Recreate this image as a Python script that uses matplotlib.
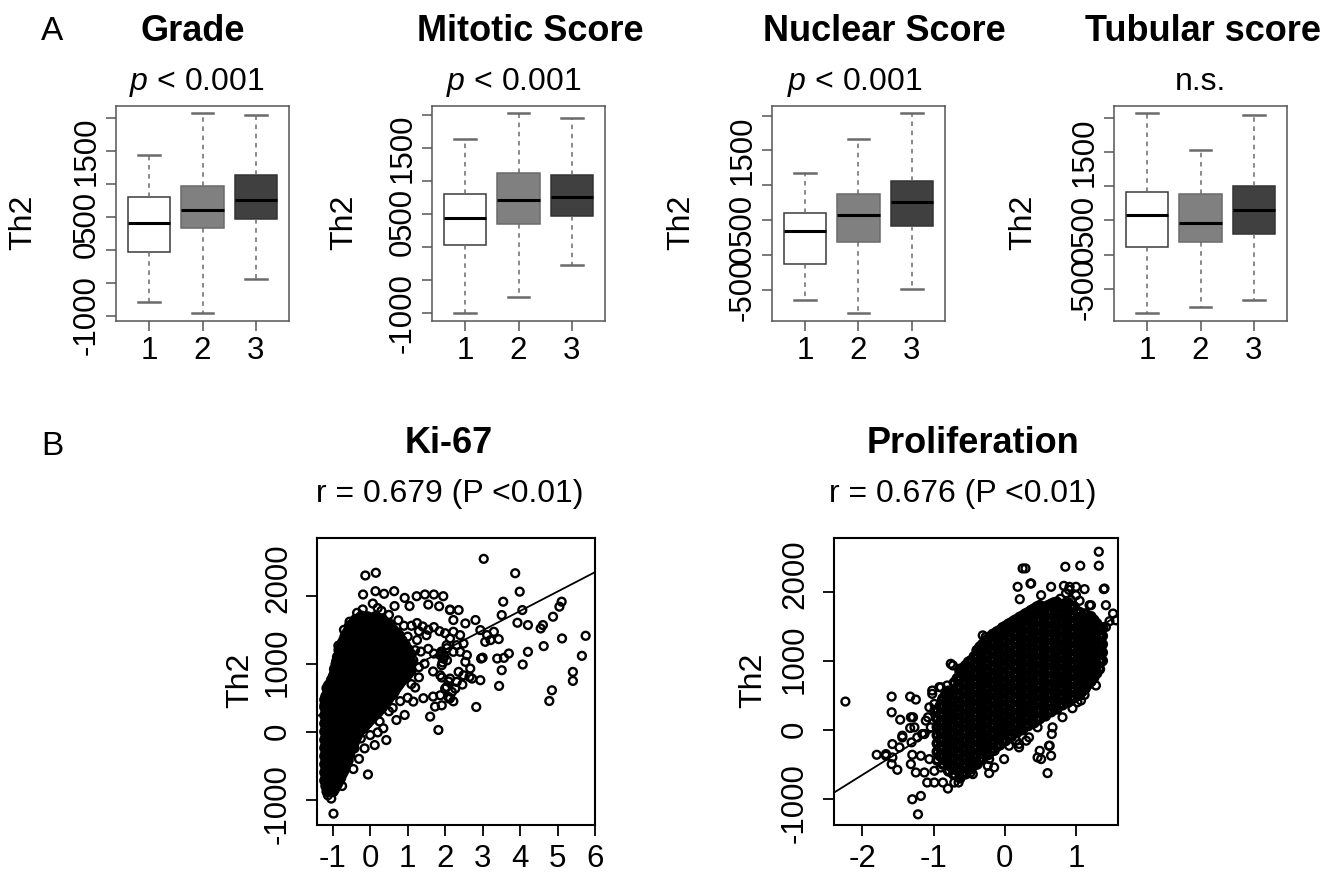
import matplotlib
matplotlib.use('Agg')
import matplotlib.pyplot as plt
from matplotlib.transforms import offset_copy

plt.rcParams['font.family'] = ['Liberation Sans', 'DejaVu Sans']
plt.rcParams['mathtext.fontset'] = 'custom'
plt.rcParams['mathtext.rm'] = 'Liberation Sans'
plt.rcParams['mathtext.it'] = 'Liberation Sans:italic'
plt.rcParams['axes.unicode_minus'] = False

W, H = 1340, 888

# ---- panel A: box plot summaries (q1, median, q3, whisker low, whisker high) for groups 1..3
groups = [1, 2, 3]
box_titles = ['Grade', 'Mitotic Score', 'Nuclear Score', 'Tubular score']
box_pvals = [r'$p$ < 0.001', r'$p$ < 0.001', r'$p$ < 0.001', 'n.s.']

grade_q1 = [-36, 332, 470]
grade_med = [409, 598, 756]
grade_q3 = [802, 966, 1129]
grade_lo = [-797, -961, -440]
grade_hi = [1441, 2080, 2039]

mitotic_q1 = [36, 357, 469]
mitotic_med = [444, 719, 765]
mitotic_q3 = [811, 1122, 1091]
mitotic_lo = [-995, -755, -275]
mitotic_hi = [1642, 2040, 1964]

nuclear_q1 = [-126, 184, 406]
nuclear_med = [338, 566, 754]
nuclear_q3 = [604, 875, 1064]
nuclear_lo = [-653, -836, -493]
nuclear_hi = [1170, 1663, 2040]

tubular_q1 = [108, 187, 304]
tubular_med = [574, 466, 648]
tubular_q3 = [918, 889, 1002]
tubular_lo = [-849, -766, -663]
tubular_hi = [2072, 1532, 2033]

box_ylims = [(-1083, 2182), (-1117, 2142), (-952, 2137), (-967, 2170)]
ticks7 = [-1000, -500, 0, 500, 1000, 1500, 2000]
labels7 = ['-1000', '', '0', '500', '', '1500', '']
ticks6 = [-500, 0, 500, 1000, 1500, 2000]
labels6 = ['-500', '0', '500', '', '1500', '']

# ---- panel B: scatter points
ki67_line = (633, 286)      # intercept, slope
prolif_line = (635, 645)
scatter_yticks = [-1000, 0, 1000, 2000]
scatter_ylabels = ['-1000', '0', '1000', '2000']

ki67_sparse = [
    (-0.13, 2300), (0.15, 2340), (-0.19, 2020), (0.14, 2069), (0.37, 2030), (0.64, 2069),
    (0.07, 1887), (0.92, 1970), (1.24, 1995), (1.46, 2020), (1.70, 2020), (1.95, 1995),
    (2.13, 1798), (1.84, 1847), (1.55, 1872), (-0.85, 1266), (-0.91, 1034), (-0.98, 837),
    (-1.22, 394), (-1.13, -936), (-1.04, -985), (-0.98, -1207), (-0.06, -630), (0.43, -123),
    (1.82, 25), (1.60, 222), (0.70, 172), (0.92, 246), (1.15, 443), (1.42, 493), (1.68, 517),
    (1.73, 369), (1.68, 887), (1.91, 798), (2.09, 739), (2.13, 493), (-0.6, -443),
    (-0.42, -246), (-0.15, -246), (0.12, -197), (0.25, 150), (0.5, 300), (0.35, 50),
    (-0.25, -100), (-0.45, -550), (-0.75, -800), (-0.3, -400), (0.0, -50), (0.2, -10),
    (0.6, 350), (0.8, 450), (1.0, 500), (1.2, 650), (1.3, 800), (1.1, 700),
    (1.1, 1560), (1.25, 1600), (1.4, 1550), (1.55, 1500), (1.7, 1540), (1.85, 1480),
    (2.0, 1450), (1.3, 1480), (1.5, 1420), (1.2, 1200), (1.35, 1180), (1.55, 1220),
    (1.7, 1150), (1.9, 1180), (2.05, 1230), (1.15, 1050), (1.3, 950), (1.45, 1000),
    (1.25, 1350), (1.0, 1400), (-0.55, 1620), (-0.35, 1750), (-0.2, 1800), (0.3, 1780),
    (0.5, 1720), (0.75, 1640), (0.9, 1560), (-0.7, 1500), (0.65, 1850), (0.2, 1820),
    (1.05, 1850),
    (3.03, 2545), (3.87, 2333), (3.99, 2062), (3.55, 1914), (4.06, 1791), (5.11, 1914),
    (5.05, 1841), (4.88, 1693), (4.61, 1570), (4.55, 1520), (3.93, 1604), (4.21, 1570),
    (3.51, 1717), (5.12, 1373), (5.75, 1412), (4.63, 1260), (4.21, 1176), (4.07, 989),
    (3.51, 905), (3.44, 674), (5.65, 1117), (5.41, 880), (5.41, 748), (4.85, 610),
    (4.78, 452), (2.83, 364), (2.96, 1077), (3.0, 1090), (3.39, 1077), (3.57, 1087),
    (3.7, 1151), (2.94, 758), (2.65, 807), (2.46, 694), (2.22, 447), (2.18, 585),
    (2.11, 487), (2.0, 635), (2.13, 1791), (2.36, 1791), (2.22, 1644), (2.54, 1594),
    (2.81, 1644), (2.94, 1496), (3.12, 1422), (3.3, 1471), (3.43, 1363), (3.21, 1348),
    (3.07, 1323), (2.22, 1471), (2.4, 1422), (2.13, 1373), (2.31, 1274), (2.49, 1299),
    (2.04, 1274), (2.22, 1176), (2.4, 1176), (2.58, 1127), (2.54, 1028), (2.67, 930),
    (2.36, 881), (2.49, 831), (2.72, 782), (2.13, 782), (2.31, 733), (2.04, 659),
    (2.27, 634), (2.09, 511), (1.87, 1127), (1.95, 1077), (1.91, 979), (1.87, 831),
    (1.87, 536), (1.91, 388), (1.9, 1150), (1.98, 1110), (2.05, 1050), (1.93, 1020),
]

ki67_core = [
    (-1.21, [-720, -600, -480, -360, -240, -120, 0, 120, 240, 360, 470]),
    (-1.15, [-880, -770, -660, -540, -420, -300, -180, -60, 60, 180, 300, 420, 540, 640]),
    (-1.07, [-850, -730, -610, -490, -370, -250, -130, -10, 110, 230, 350, 470, 590, 700]),
    (-0.99, [-880, -760, -640, -520, -400, -280, -160, -40, 80, 200, 320, 440, 560, 680, 800]),
    (-0.91, [-800, -690, -570, -450, -330, -210, -90, 30, 150, 270, 390, 510, 630, 750, 870, 990]),
    (-0.83, [-720, -600, -480, -360, -240, -120, 0, 120, 240, 360, 480, 600, 720, 840, 960, 1080, 1200]),
    (-0.75, [-620, -500, -380, -260, -140, -20, 100, 220, 340, 460, 580, 700, 820, 940, 1060, 1180, 1300]),
    (-0.67, [-520, -400, -280, -160, -40, 80, 200, 320, 440, 560, 680, 800, 920, 1040, 1160, 1280, 1400]),
    (-0.59, [-420, -300, -180, -60, 60, 180, 300, 420, 540, 660, 780, 900, 1020, 1140, 1260, 1380, 1480]),
    (-0.51, [-260, -140, -20, 100, 220, 340, 460, 580, 700, 820, 940, 1060, 1180, 1300, 1420, 1540]),
    (-0.43, [-160, -40, 80, 200, 320, 440, 560, 680, 800, 920, 1040, 1160, 1280, 1400, 1520, 1620]),
    (-0.35, [-60, 60, 180, 300, 420, 540, 660, 780, 900, 1020, 1140, 1260, 1380, 1500, 1620]),
    (-0.27, [20, 140, 260, 380, 500, 620, 740, 860, 980, 1100, 1220, 1340, 1460, 1580, 1680]),
    (-0.19, [60, 180, 300, 420, 540, 660, 780, 900, 1020, 1140, 1260, 1380, 1500, 1620]),
    (-0.11, [110, 230, 350, 470, 590, 710, 830, 950, 1070, 1190, 1310, 1430, 1550, 1670]),
    (-0.03, [160, 280, 400, 520, 640, 760, 880, 1000, 1120, 1240, 1360, 1480, 1600]),
    (0.05, [200, 320, 440, 560, 680, 800, 920, 1040, 1160, 1280, 1400, 1520, 1640]),
    (0.13, [250, 370, 490, 610, 730, 850, 970, 1090, 1210, 1330, 1450, 1570, 1690]),
    (0.21, [290, 410, 530, 650, 770, 890, 1010, 1130, 1250, 1370, 1490, 1610]),
    (0.29, [340, 460, 580, 700, 820, 940, 1060, 1180, 1300, 1420, 1540, 1660]),
    (0.37, [400, 520, 640, 760, 880, 1000, 1120, 1240, 1360, 1480, 1600]),
    (0.45, [460, 580, 700, 820, 940, 1060, 1180, 1300, 1420, 1540]),
    (0.53, [520, 640, 760, 880, 1000, 1120, 1240, 1360, 1480, 1580]),
    (0.61, [560, 680, 800, 920, 1040, 1160, 1280, 1400, 1500]),
    (0.69, [640, 760, 880, 1000, 1120, 1240, 1360, 1460]),
    (0.77, [700, 820, 940, 1060, 1180, 1300, 1420]),
    (0.85, [760, 880, 1000, 1120, 1240, 1340]),
    (0.93, [800, 920, 1040, 1160, 1280]),
    (1.01, [850, 970, 1090, 1210]),
    (1.09, [900, 1020, 1140]),
]

ki67_core_b = [
    (-1.18, [-800, -680, -560, -440, -320, -200, -80, 40, 160, 280, 400, 520]),
    (-1.11, [-860, -740, -620, -500, -380, -260, -140, -20, 100, 220, 340, 460, 580, 680]),
    (-1.03, [-870, -750, -630, -510, -390, -270, -150, -30, 90, 210, 330, 450, 570, 690, 760]),
    (-0.95, [-840, -720, -600, -480, -360, -240, -120, 0, 120, 240, 360, 480, 600, 720, 840, 920]),
    (-0.87, [-760, -640, -520, -400, -280, -160, -40, 80, 200, 320, 440, 560, 680, 800, 920, 1040, 1100]),
    (-0.79, [-680, -560, -440, -320, -200, -80, 40, 160, 280, 400, 520, 640, 760, 880, 1000, 1120, 1240]),
    (-0.71, [-580, -460, -340, -220, -100, 20, 140, 260, 380, 500, 620, 740, 860, 980, 1100, 1220, 1340]),
    (-0.63, [-460, -340, -220, -100, 20, 140, 260, 380, 500, 620, 740, 860, 980, 1100, 1220, 1340, 1440]),
    (-0.55, [-340, -220, -100, 20, 140, 260, 380, 500, 620, 740, 860, 980, 1100, 1220, 1340, 1460, 1560]),
    (-0.47, [-220, -100, 20, 140, 260, 380, 500, 620, 740, 860, 980, 1100, 1220, 1340, 1460, 1580]),
    (-0.39, [-110, 10, 130, 250, 370, 490, 610, 730, 850, 970, 1090, 1210, 1330, 1450, 1570, 1650]),
    (-0.31, [-20, 100, 220, 340, 460, 580, 700, 820, 940, 1060, 1180, 1300, 1420, 1540, 1650]),
    (-0.23, [40, 160, 280, 400, 520, 640, 760, 880, 1000, 1120, 1240, 1360, 1480, 1600, 1700]),
    (-0.15, [80, 200, 320, 440, 560, 680, 800, 920, 1040, 1160, 1280, 1400, 1520, 1640]),
    (-0.07, [130, 250, 370, 490, 610, 730, 850, 970, 1090, 1210, 1330, 1450, 1570, 1690]),
    (0.01, [180, 300, 420, 540, 660, 780, 900, 1020, 1140, 1260, 1380, 1500, 1620]),
    (0.09, [230, 350, 470, 590, 710, 830, 950, 1070, 1190, 1310, 1430, 1550, 1670]),
    (0.17, [270, 390, 510, 630, 750, 870, 990, 1110, 1230, 1350, 1470, 1590, 1680]),
    (0.25, [320, 440, 560, 680, 800, 920, 1040, 1160, 1280, 1400, 1520, 1640]),
    (0.33, [370, 490, 610, 730, 850, 970, 1090, 1210, 1330, 1450, 1570, 1650]),
    (0.41, [430, 550, 670, 790, 910, 1030, 1150, 1270, 1390, 1510, 1580]),
    (0.49, [490, 610, 730, 850, 970, 1090, 1210, 1330, 1450, 1560]),
    (0.57, [540, 660, 780, 900, 1020, 1140, 1260, 1380, 1500]),
    (0.65, [600, 720, 840, 960, 1080, 1200, 1320, 1440]),
    (0.73, [670, 790, 910, 1030, 1150, 1270, 1390]),
    (0.81, [730, 850, 970, 1090, 1210, 1320]),
    (0.89, [780, 900, 1020, 1140, 1260]),
    (0.97, [830, 950, 1070, 1190]),
    (1.05, [880, 1000, 1120]),
]

prolif_sparse = [
    (-2.24, 408), (-1.59, 480), (-1.33, 480), (-1.25, 437), (-1.59, 252), (-1.47, 145),
    (-1.29, 180), (-1.33, 24), (-1.44, -112), (-1.58, -209), (-1.48, -257), (-1.80, -364),
    (-1.67, -379), (-1.58, -403), (-1.59, -500), (-1.51, -582), (-1.30, -364), (-1.32, -500),
    (-1.25, -621), (-1.13, -621), (-1.09, -767), (-0.99, -767), (-0.87, -767), (-0.80, -854),
    (-0.71, -767), (-0.65, -767), (-0.73, -646), (-0.64, -573), (-0.48, -621), (-0.48, -524),
    (-1.3, -1010), (-1.18, -961), (-1.22, -1228), (-1.18, -379), (-1.06, -427), (-0.99, -597),
    (-0.9, -549), (-1.23, -112), (-1.13, -63), (-1.04, 34), (-1.08, 180), (-0.99, 277),
    (-0.99, 374), (-1.02, 568), (-0.9, 616), (-0.81, 641), (-0.73, 932), (-0.48, 980),
    (-0.43, 1029), (-0.31, 1368), (-1.44, -87), (-1.32, 180), (-1.67, -354), (-1.31, -184),
    (-1.27, 34), (-1.11, 131), (-1.16, -63), (-1.06, 325), (-1.02, 520), (-0.92, 617),
    (-0.88, 423), (-0.78, 520), (-0.76, 956), (-0.64, 883), (-0.48, 1005), (-0.27, 1344),
    (-0.17, 1393),
    (1.32, 2582), (1.32, 2379), (1.06, 2379), (0.85, 2364), (0.29, 2340), (0.18, 2073),
    (0.36, 2121), (0.21, 1893), (0.51, 1951), (0.65, 2073), (0.83, 2087), (1.0, 2073),
    (1.12, 2039), (1.39, 2039), (1.42, 1806), (1.52, 1685), (1.47, 1573), (1.21, 1806),
    (1.31, 1102), (1.24, 787), (1.28, 641), (1.12, 505), (1.02, 398), (0.95, 311),
    (0.81, 180), (0.67, 34), (0.66, -63), (0.63, -233), (0.65, -378), (0.51, -427),
    (0.6, -630), (0.46, 34), (0.3, -160), (0.2, -208), (0.06, -233), (-0.01, -427),
    (-0.22, -427), (-0.24, -524), (-0.15, -548), (-0.22, -630), (-0.45, -524), (-0.45, -645),
    (-0.31, -281), (-0.03, 10), (0.09, -14), (0.16, -160), (0.2, -257), (0.34, -111),
    (0.46, -403), (0.49, -306), (0.62, -233), (0.37, 107), (1.07, 423), (1.33, 1296),
    (1.42, 1490), (1.56, 1587), (1.4, 2048), (0.25, 2339), (0.37, 2121), (0.91, 2072),
    (1.19, 1806), (0.78, 1900), (0.86, 1980), (0.93, 1880), (1.0, 1950), (0.9, 2030),
    (0.82, 1820), (0.97, 1790), (1.05, 1870),
]

prolif_core = [
    (-0.95, [-440, -320, -200, -80, 40, 160, 280]),
    (-0.87, [-500, -380, -260, -140, -20, 100, 220, 340, 450]),
    (-0.79, [-600, -480, -360, -240, -120, 0, 120, 240, 360, 480, 560]),
    (-0.71, [-650, -530, -410, -290, -170, -50, 70, 190, 310, 430, 550, 680]),
    (-0.63, [-700, -580, -460, -340, -220, -100, 20, 140, 260, 380, 500, 620, 740, 840]),
    (-0.55, [-640, -520, -400, -280, -160, -40, 80, 200, 320, 440, 560, 680, 800, 930]),
    (-0.47, [-560, -440, -320, -200, -80, 40, 160, 280, 400, 520, 640, 760, 880, 1000]),
    (-0.39, [-500, -380, -260, -140, -20, 100, 220, 340, 460, 580, 700, 820, 940, 1060, 1150]),
    (-0.31, [-420, -300, -180, -60, 60, 180, 300, 420, 540, 660, 780, 900, 1020, 1140, 1240]),
    (-0.23, [-360, -240, -120, 0, 120, 240, 360, 480, 600, 720, 840, 960, 1080, 1200, 1320]),
    (-0.15, [-300, -180, -60, 60, 180, 300, 420, 540, 660, 780, 900, 1020, 1140, 1260, 1380]),
    (-0.07, [-220, -100, 20, 140, 260, 380, 500, 620, 740, 860, 980, 1100, 1220, 1340, 1440]),
    (0.01, [-160, -40, 80, 200, 320, 440, 560, 680, 800, 920, 1040, 1160, 1280, 1400, 1500]),
    (0.09, [-100, 20, 140, 260, 380, 500, 620, 740, 860, 980, 1100, 1220, 1340, 1460, 1550]),
    (0.17, [-40, 80, 200, 320, 440, 560, 680, 800, 920, 1040, 1160, 1280, 1400, 1520, 1600]),
    (0.25, [0, 120, 240, 360, 480, 600, 720, 840, 960, 1080, 1200, 1320, 1440, 1560, 1650]),
    (0.33, [60, 180, 300, 420, 540, 660, 780, 900, 1020, 1140, 1260, 1380, 1500, 1620, 1700]),
    (0.41, [100, 220, 340, 460, 580, 700, 820, 940, 1060, 1180, 1300, 1420, 1540, 1660, 1750]),
    (0.49, [160, 280, 400, 520, 640, 760, 880, 1000, 1120, 1240, 1360, 1480, 1600, 1720, 1800]),
    (0.57, [200, 320, 440, 560, 680, 800, 920, 1040, 1160, 1280, 1400, 1520, 1640, 1760]),
    (0.65, [260, 380, 500, 620, 740, 860, 980, 1100, 1220, 1340, 1460, 1580, 1700, 1820]),
    (0.73, [300, 420, 540, 660, 780, 900, 1020, 1140, 1260, 1380, 1500, 1620, 1740, 1850]),
    (0.81, [360, 480, 600, 720, 840, 960, 1080, 1200, 1320, 1440, 1560, 1680, 1800]),
    (0.89, [400, 520, 640, 760, 880, 1000, 1120, 1240, 1360, 1480, 1600, 1720, 1840]),
    (0.97, [460, 580, 700, 820, 940, 1060, 1180, 1300, 1420, 1540, 1660, 1780]),
    (1.05, [500, 620, 740, 860, 980, 1100, 1220, 1340, 1460, 1580, 1700]),
    (1.13, [600, 720, 840, 960, 1080, 1200, 1320, 1440, 1560, 1680]),
    (1.21, [700, 820, 940, 1060, 1180, 1300, 1420, 1540, 1640]),
    (1.29, [820, 940, 1060, 1180, 1300, 1420, 1540]),
    (1.37, [1000, 1120, 1240, 1360, 1480]),
]

prolif_core_b = [
    (-0.91, [-380, -260, -140, -20, 100, 220, 340]),
    (-0.83, [-440, -320, -200, -80, 40, 160, 280, 400, 510]),
    (-0.75, [-540, -420, -300, -180, -60, 60, 180, 300, 420, 540]),
    (-0.67, [-590, -470, -350, -230, -110, 10, 130, 250, 370, 490, 610, 740]),
    (-0.59, [-640, -520, -400, -280, -160, -40, 80, 200, 320, 440, 560, 680, 800, 890]),
    (-0.51, [-580, -460, -340, -220, -100, 20, 140, 260, 380, 500, 620, 740, 860, 980]),
    (-0.43, [-500, -380, -260, -140, -20, 100, 220, 340, 460, 580, 700, 820, 940, 1060]),
    (-0.35, [-440, -320, -200, -80, 40, 160, 280, 400, 520, 640, 760, 880, 1000, 1120, 1200]),
    (-0.27, [-360, -240, -120, 0, 120, 240, 360, 480, 600, 720, 840, 960, 1080, 1200, 1290]),
    (-0.19, [-300, -180, -60, 60, 180, 300, 420, 540, 660, 780, 900, 1020, 1140, 1260, 1360]),
    (-0.11, [-240, -120, 0, 120, 240, 360, 480, 600, 720, 840, 960, 1080, 1200, 1320, 1420]),
    (-0.03, [-160, -40, 80, 200, 320, 440, 560, 680, 800, 920, 1040, 1160, 1280, 1400, 1480]),
    (0.05, [-100, 20, 140, 260, 380, 500, 620, 740, 860, 980, 1100, 1220, 1340, 1460, 1530]),
    (0.13, [-40, 80, 200, 320, 440, 560, 680, 800, 920, 1040, 1160, 1280, 1400, 1520, 1580]),
    (0.21, [20, 140, 260, 380, 500, 620, 740, 860, 980, 1100, 1220, 1340, 1460, 1580, 1630]),
    (0.29, [60, 180, 300, 420, 540, 660, 780, 900, 1020, 1140, 1260, 1380, 1500, 1620, 1680]),
    (0.37, [120, 240, 360, 480, 600, 720, 840, 960, 1080, 1200, 1320, 1440, 1560, 1680, 1730]),
    (0.45, [160, 280, 400, 520, 640, 760, 880, 1000, 1120, 1240, 1360, 1480, 1600, 1720, 1780]),
    (0.53, [220, 340, 460, 580, 700, 820, 940, 1060, 1180, 1300, 1420, 1540, 1660, 1780]),
    (0.61, [260, 380, 500, 620, 740, 860, 980, 1100, 1220, 1340, 1460, 1580, 1700, 1800]),
    (0.69, [320, 440, 560, 680, 800, 920, 1040, 1160, 1280, 1400, 1520, 1640, 1760, 1840]),
    (0.77, [360, 480, 600, 720, 840, 960, 1080, 1200, 1320, 1440, 1560, 1680, 1800]),
    (0.85, [420, 540, 660, 780, 900, 1020, 1140, 1260, 1380, 1500, 1620, 1740, 1830]),
    (0.93, [460, 580, 700, 820, 940, 1060, 1180, 1300, 1420, 1540, 1660, 1780]),
    (1.01, [520, 640, 760, 880, 1000, 1120, 1240, 1360, 1480, 1600, 1720]),
    (1.09, [560, 680, 800, 920, 1040, 1160, 1280, 1400, 1520, 1640]),
    (1.17, [660, 780, 900, 1020, 1140, 1260, 1380, 1500, 1620]),
    (1.25, [760, 880, 1000, 1120, 1240, 1360, 1480, 1590]),
    (1.33, [880, 1000, 1120, 1240, 1360, 1480]),
]


def flatten(sparse, *cores):
    xs = [p[0] for p in sparse]
    ys = [p[1] for p in sparse]
    for core in cores:
        for x, col in core:
            xs += [x] * len(col)
            ys += col
    return xs, ys


def px_axes(fig, left, top, right, bottom):
    return fig.add_axes([left / W, 1 - bottom / H, (right - left) / W, (bottom - top) / H])


def ftext(fig, x, y, s, **kw):
    fig.text(x / W, 1 - y / H, s, **kw)


fig = plt.figure(figsize=(W / 100, H / 100), dpi=100)

box_data = [
    (grade_q1, grade_med, grade_q3, grade_lo, grade_hi),
    (mitotic_q1, mitotic_med, mitotic_q3, mitotic_lo, mitotic_hi),
    (nuclear_q1, nuclear_med, nuclear_q3, nuclear_lo, nuclear_hi),
    (tubular_q1, tubular_med, tubular_q3, tubular_lo, tubular_hi),
]
box_lefts = [116, 432, 772, 1114]
title_x = [193, 530, 884, 1203]
pval_x = [197, 514, 855, 1200]
th2_x = [23, 344, 681, 1023]
face = ['white', '#808080', '#404040']
edge = ['#3a3a3a', '#6a6a6a', '#333333']
frame_col = '#555555'

for i, (q1, med, q3, lo, hi) in enumerate(box_data):
    ax = px_axes(fig, box_lefts[i], 106, box_lefts[i] + 173, 321)
    stats = [dict(q1=q1[k], med=med[k], q3=q3[k], whislo=lo[k], whishi=hi[k], fliers=[])
             for k in range(3)]
    res = ax.bxp(stats, positions=groups, widths=0.8, capwidths=0.4, patch_artist=True,
                 showfliers=False,
                 whiskerprops=dict(color='#6a6a6a', linestyle=(0, (3, 3)), linewidth=1.1),
                 capprops=dict(color='#6a6a6a', linewidth=1.8),
                 medianprops=dict(color='black', linewidth=2.2))
    for k, patch in enumerate(res['boxes']):
        patch.set_facecolor(face[k])
        patch.set_edgecolor(edge[k])
        patch.set_linewidth(1.1)
    ax.set_xlim(0.38, 3.62)
    ax.set_ylim(*box_ylims[i])
    if i < 2:
        ax.set_yticks(ticks7, labels7)
    else:
        ax.set_yticks(ticks6, labels6)
    ax.set_xticks(groups, ['1', '2', '3'])
    for sp in ax.spines.values():
        sp.set_color(frame_col)
        sp.set_linewidth(1.1)
    ax.tick_params(axis='both', colors=frame_col, length=7, width=1.1, labelsize=22.5,
                   labelcolor='black')
    ax.tick_params(axis='x', pad=4)
    ax.tick_params(axis='y', pad=3)
    for lab in ax.get_yticklabels():
        lab.set_rotation(90)
        lab.set_va('center')
    ftext(fig, title_x[i], 41, box_titles[i], fontsize=26, fontweight='bold',
          ha='center', va='baseline')
    ftext(fig, pval_x[i], 90, box_pvals[i], fontsize=23, ha='center', va='baseline')
    ftext(fig, th2_x[i], 222, 'Th2', fontsize=23, rotation=90, ha='center', va='center')

ftext(fig, 52, 40, 'A', fontsize=24, ha='center', va='baseline')
ftext(fig, 52, 455, 'B', fontsize=24, ha='center', va='baseline')

scatter_sets = [
    (ki67_sparse, (ki67_core, ki67_core_b), ki67_line, (317, 595), (-1.42, 6.0),
     (-1374, 2852), list(range(-1, 7)), 'Ki-67', 'r = 0.679 (P <0.01)', 449, 450, 240),
    (prolif_sparse, (prolif_core, prolif_core_b), prolif_line, (834, 1118), (-2.40, 1.59),
     (-1383, 2781), [-2, -1, 0, 1], 'Proliferation', 'r = 0.676 (P <0.01)', 973, 963, 753),
]
# vertical nudges (pixels) of the y tick labels, as they sit in the reference
label_nudge = [-4, 0, 2, 18]

for sparse, cores, line, (l, r), xlim, ylim, xt, title, rtxt, tx, rx, thx in scatter_sets:
    ax = px_axes(fig, l, 538, r, 825)
    sx, sy = flatten(sparse)
    cx, cy = flatten([], *cores)
    # the dense cloud: points overlap so heavily that it reads as solid black
    ax.scatter(cx, cy, s=32, facecolors='none', edgecolors='black', linewidths=2.6)
    ax.scatter(sx, sy, s=32, facecolors='none', edgecolors='black', linewidths=1.7)
    ax.axline((0, line[0]), slope=line[1], color='black', linewidth=1.3)
    ax.set_xlim(*xlim)
    ax.set_ylim(*ylim)
    ax.set_xticks(xt, [str(v) for v in xt])
    ax.set_yticks(scatter_yticks, [''] * len(scatter_yticks))
    for val, lab, dy in zip(scatter_yticks, scatter_ylabels, label_nudge):
        tr = offset_copy(ax.get_yaxis_transform(), fig=fig, x=-24, y=dy, units='dots')
        ax.text(0, val, lab, transform=tr, rotation=90, ha='right', va='center',
                fontsize=22.5, clip_on=False)
    for sp in ax.spines.values():
        sp.set_color('black')
        sp.set_linewidth(1.5)
    ax.tick_params(axis='both', length=8, width=1.3, labelsize=22.5)
    ax.tick_params(axis='x', pad=6)
    ftext(fig, tx, 453, title, fontsize=26, fontweight='bold', ha='center', va='baseline')
    ftext(fig, rx, 502, rtxt, fontsize=23, ha='center', va='baseline')
    ftext(fig, thx, 680, 'Th2', fontsize=23, rotation=90, ha='center', va='center')

fig.savefig('out.png', dpi=100)
